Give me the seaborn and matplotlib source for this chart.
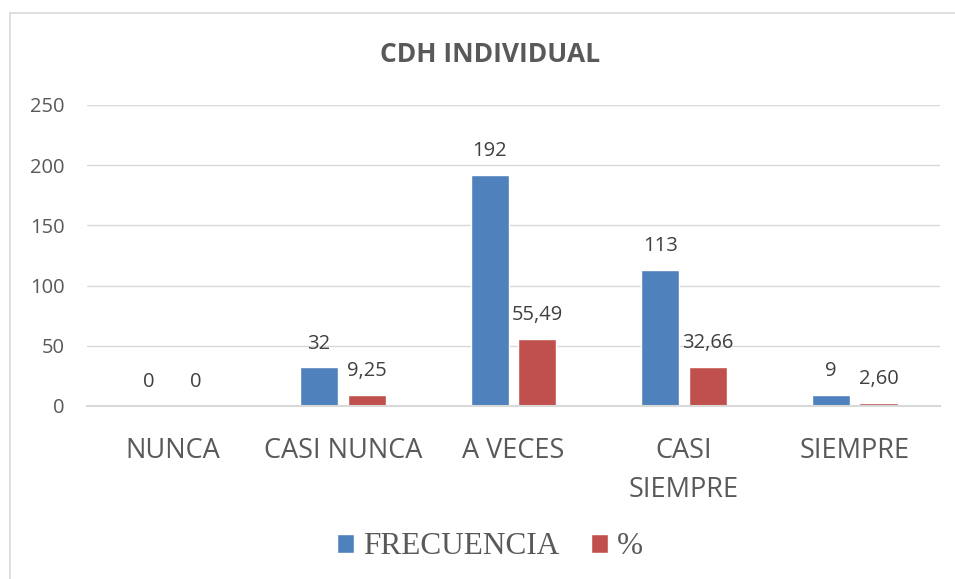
import matplotlib
matplotlib.use("Agg")
from matplotlib import pyplot as plt
from matplotlib.patches import Rectangle
import pandas as pd
import seaborn as sns

categorias = ['NUNCA', 'CASI NUNCA', 'A VECES', 'CASI\nSIEMPRE', 'SIEMPRE']
frecuencia = [0, 32, 192, 113, 9]
porcentaje = [0, 9.25, 55.49, 32.66, 2.60]
series = ['FRECUENCIA', '%']
colores = ['#4F81BD', '#C0504D']
titulo = 'CDH INDIVIDUAL'


def formato(v):
    # etiquetas con coma decimal como en el original
    if v == 0:
        return '0'
    if float(v).is_integer():
        return str(int(v))
    return f'{v:.2f}'.replace('.', ',')


def build_df():
    df = pd.DataFrame({
        'categoria': categorias * 2,
        'valor': frecuencia + porcentaje,
        'serie': [series[0]] * len(categorias) + [series[1]] * len(categorias)})
    return df


def plot_chart(df):
    sns.set_style('white')
    plt.rcParams['font.family'] = ['Open Sans', 'DejaVu Sans']
    fig = plt.figure(figsize=(9.55, 5.79), dpi=100)
    ax = fig.add_axes([0.0911, 0.2988, 0.8932, 0.5199])
    sns.barplot(data=df, x='categoria', y='valor', hue='serie', order=categorias,
                hue_order=series, palette=colores, width=0.56, gap=0.2,
                saturation=1, ax=ax, legend=True)
    for cont, vals in zip(ax.containers, [frecuencia, porcentaje]):
        ax.bar_label(cont, labels=[formato(v) for v in vals], padding=10,
                     fontsize=14.5, color='#404040')
    ax.set_ylim(0, 250)
    ax.set_xlim(-0.5, 4.5)
    ax.set_yticks(range(0, 251, 50))
    ax.yaxis.grid(True, color='#d9d9d9', linewidth=1)
    ax.set_axisbelow(True)
    for s in ['top', 'right', 'left']:
        ax.spines[s].set_visible(False)
    ax.spines['bottom'].set_color('#d9d9d9')
    ax.spines['bottom'].set_linewidth(1.5)
    ax.tick_params(axis='y', length=0, pad=16, labelsize=14.5, labelcolor='#595959')
    ax.tick_params(axis='x', length=0, pad=22, labelsize=19.5, labelcolor='#595959')
    for t in ax.get_xticklabels():
        t.set_linespacing(1.55)
        t.set_verticalalignment('top')
    ax.set_xlabel('')
    ax.set_ylabel('')
    fig.text(490 / 955, 1 - 55 / 579, titulo, ha='center', va='center',
             fontsize=19, fontweight='bold', color='#595959')
    ax.get_legend().remove()
    handles, labels = ax.get_legend_handles_labels()
    fig.legend(handles, labels, loc='center', bbox_to_anchor=(490 / 955, 1 - 547 / 579),
               ncol=2, frameon=False, handlelength=0.55, handleheight=0.55,
               handletextpad=0.3, columnspacing=1.0,
               prop={'family': 'Liberation Serif', 'size': 22.5}, labelcolor='#595959')
    fig.add_artist(Rectangle((10 / 955, -0.05), 1.1, 1.05 - 13 / 579,
                             transform=fig.transFigure, fill=False,
                             edgecolor='#d9d9d9', linewidth=1.2))
    fig.savefig('out.png', dpi=100)


if __name__ == "__main__":
    plot_chart(build_df())
